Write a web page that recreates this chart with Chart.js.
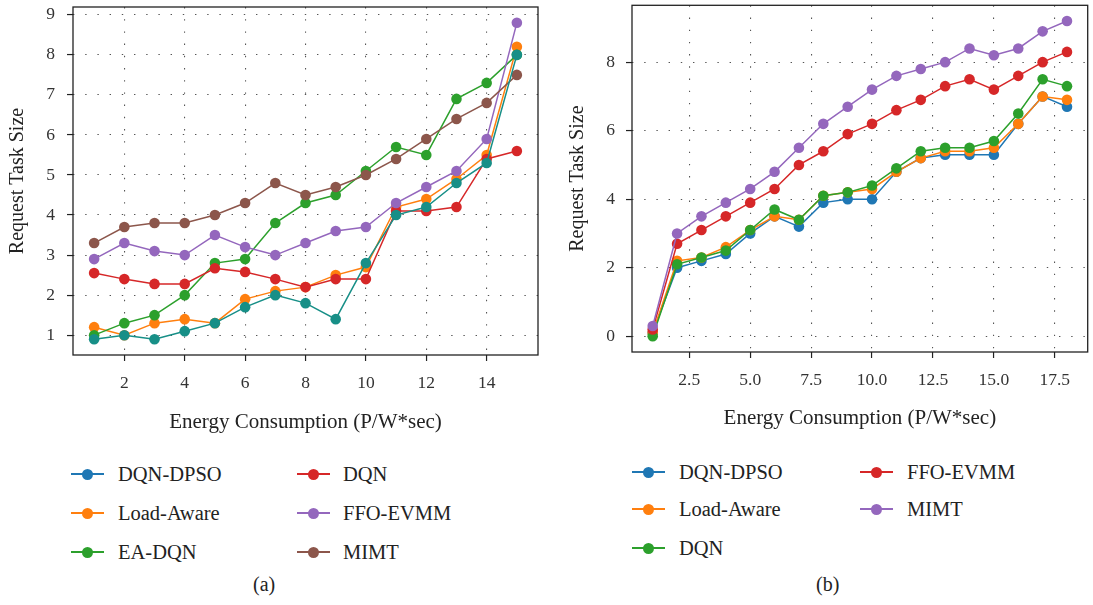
<!DOCTYPE html>
<html>
<head>
<meta charset="utf-8">
<script src="https://cdn.jsdelivr.net/npm/chart.js@4.4.0/dist/chart.umd.min.js"></script>
<style>
  body { margin: 0; background: #fff; width: 1093px; height: 605px; position: relative; overflow: hidden;
         font-family: "Liberation Serif", "Times New Roman", serif; color: #222; }
  canvas { position: absolute; top: 0; }
  .item { position: absolute; height: 24px; display: flex; align-items: center; font-size: 20.5px; white-space: nowrap; }
  .mark { position: relative; width: 33px; height: 24px; flex: none; }
  .mark .ln { position: absolute; left: 0; right: 0; top: 11px; height: 1.6px; }
  .mark .dt { position: absolute; left: 11px; top: 6.5px; width: 11px; height: 11px; border-radius: 50%; }
  .cap { position: absolute; top: 573px; font-size: 20px; }
</style>
</head>
<body>
<canvas id="chartA" width="545" height="435" style="left:0"></canvas>
<canvas id="chartB" width="545" height="431" style="left:548px"></canvas>
<div id="legendA"></div>
<div id="legendB"></div>
<div class="cap" style="left:253px">(a)</div>
<div class="cap" style="left:816px">(b)</div>

<script>
// panel (a)
var xA = [1, 2, 3, 4, 5, 6, 7, 8, 9, 10, 11, 12, 13, 14, 15];
var dqnDpsoA   = [0.9, 1.0, 0.9, 1.1, 1.3, 1.7, 2.0, 1.8, 1.4, 2.8, 4.0, 4.2, 4.8, 5.3, 8.0];
var loadAwareA = [1.2, 1.0, 1.3, 1.4, 1.3, 1.9, 2.1, 2.2, 2.5, 2.7, 4.2, 4.4, 4.9, 5.5, 8.2];
var eaDqnA     = [1.0, 1.3, 1.5, 2.0, 2.8, 2.9, 3.8, 4.3, 4.5, 5.1, 5.7, 5.5, 6.9, 7.3, 8.0];
var dqnA       = [2.55, 2.4, 2.28, 2.28, 2.67, 2.58, 2.4, 2.2, 2.4, 2.4, 4.1, 4.1, 4.2, 5.4, 5.6];
var ffoEvmmA   = [2.9, 3.3, 3.1, 3.0, 3.5, 3.2, 3.0, 3.3, 3.6, 3.7, 4.3, 4.7, 5.1, 5.9, 8.8];
var mimtA      = [3.3, 3.7, 3.8, 3.8, 4.0, 4.3, 4.8, 4.5, 4.7, 5.0, 5.4, 5.9, 6.4, 6.8, 7.5];
var xTicksA = [2, 4, 6, 8, 10, 12, 14];
var yTicksA = [1, 2, 3, 4, 5, 6, 7, 8, 9];

// panel (b)
var xB = [1, 2, 3, 4, 5, 6, 7, 8, 9, 10, 11, 12, 13, 14, 15, 16, 17, 18];
var dqnDpsoB   = [0.1, 2.0, 2.2, 2.4, 3.0, 3.5, 3.2, 3.9, 4.0, 4.0, 4.8, 5.2, 5.3, 5.3, 5.3, 6.2, 7.0, 6.7];
var loadAwareB = [0.1, 2.2, 2.3, 2.6, 3.1, 3.5, 3.4, 4.1, 4.2, 4.3, 4.8, 5.2, 5.4, 5.4, 5.5, 6.2, 7.0, 6.9];
var dqnB       = [0.0, 2.1, 2.3, 2.5, 3.1, 3.7, 3.4, 4.1, 4.2, 4.4, 4.9, 5.4, 5.5, 5.5, 5.7, 6.5, 7.5, 7.3];
var ffoEvmmB   = [0.2, 2.7, 3.1, 3.5, 3.9, 4.3, 5.0, 5.4, 5.9, 6.2, 6.6, 6.9, 7.3, 7.5, 7.2, 7.6, 8.0, 8.3];
var mimtB      = [0.3, 3.0, 3.5, 3.9, 4.3, 4.8, 5.5, 6.2, 6.7, 7.2, 7.6, 7.8, 8.0, 8.4, 8.2, 8.4, 8.9, 9.2];
var xTicksB = [2.5, 5, 7.5, 10, 12.5, 15, 17.5];
var yTicksB = [0, 2, 4, 6, 8];

var BLUE = '#1f77b4', ORANGE = '#ff7f0e', GREEN = '#2ca02c', RED = '#d62728',
    PURPLE = '#9467bd', BROWN = '#8c564b', TEAL = '#178f87';
var FONT = "'Liberation Serif', 'Times New Roman', serif";

Chart.defaults.font.family = FONT;
Chart.defaults.color = '#333';

/**
* Draws the full box around the plot area
* (matplotlib style spines on all four sides).
*/
var frame = {
    id: 'frame',
    afterDraw: function(chart) {
        var a = chart.chartArea, ctx = chart.ctx;
        ctx.save();
        ctx.strokeStyle = '#222';
        ctx.lineWidth = 1.3;
        ctx.strokeRect(a.left, a.top, a.right - a.left, a.bottom - a.top);
        ctx.restore();
    }
};

function makeDatasets(xs, series) {
    return series.map(function(s, i) {
        return {
            label: s.name,
            data: xs.map(function(x, j) { return { x: x, y: s.values[j] }; }),
            borderColor: s.color,
            backgroundColor: s.color,
            borderWidth: 1.5,
            pointRadius: 5.3,
            pointHoverRadius: 5.3,
            pointBorderWidth: 0,
            tension: 0,
            order: s.top ? -1 : series.length - i
        };
    });
}

function axis(cfg) {
    return {
        type: 'linear',
        min: cfg.min,
        max: cfg.max,
        bounds: 'data',
        grid: { color: '#555', lineWidth: 1.1, tickColor: '#222', tickWidth: 1.2, tickLength: 6 },
        border: { display: false, dash: [1.4, 10.8] },
        ticks: {
            color: '#333',
            padding: cfg.pad,
            maxRotation: 0,
            autoSkip: false,
            font: { family: FONT, size: 17.5 },
            callback: cfg.fmt
        },
        title: {
            display: true,
            text: cfg.title,
            color: '#222',
            font: { family: FONT, size: cfg.titleSize },
            padding: cfg.titlePad
        },
        afterBuildTicks: function(scale) {
            scale.ticks = cfg.ticks.map(function(v) { return { value: v }; });
        },
        afterFit: function(scale) {
            if (scale.isHorizontal()) {
                scale.height = cfg.size;
                scale.paddingLeft = 0;
                scale.paddingRight = 0;
            } else {
                scale.width = cfg.size;
                scale.paddingTop = 0;
                scale.paddingBottom = 0;
            }
        }
    };
}

function makeChart(id, xs, series, p) {
    return new Chart(document.getElementById(id).getContext('2d'), {
        type: 'line',
        data: { datasets: makeDatasets(xs, series) },
        options: {
            responsive: false,
            animation: false,
            devicePixelRatio: 1,
            layout: { padding: p.padding },
            plugins: { legend: { display: false }, tooltip: { enabled: false } },
            scales: { x: axis(p.x), y: axis(p.y) }
        },
        plugins: [frame]
    });
}

function buildLegend(id, series, cols) {
    var host = document.getElementById(id);
    series.forEach(function(s, i) {
        var c = cols[Math.floor(i / 3)], y = c.rows[i % 3];
        var el = document.createElement('div');
        el.className = 'item';
        el.style.left = c.x + 'px';
        el.style.top = (y - 12) + 'px';
        var col = s.legendColor || s.color;
        el.innerHTML = '<div class="mark"><div class="ln" style="background:' + col + '"></div>' +
            '<div class="dt" style="background:' + col + '"></div></div>' +
            '<span style="margin-left:' + (c.text - c.x - 33) + 'px">' + s.name + '</span>';
        host.appendChild(el);
    });
}

var seriesA = [
    { name: 'DQN-DPSO', values: dqnDpsoA, color: TEAL, legendColor: BLUE, top: true },
    { name: 'Load-Aware', values: loadAwareA, color: ORANGE },
    { name: 'EA-DQN', values: eaDqnA, color: GREEN },
    { name: 'DQN', values: dqnA, color: RED },
    { name: 'FFO-EVMM', values: ffoEvmmA, color: PURPLE },
    { name: 'MIMT', values: mimtA, color: BROWN }
];

var seriesB = [
    { name: 'DQN-DPSO', values: dqnDpsoB, color: BLUE },
    { name: 'Load-Aware', values: loadAwareB, color: ORANGE },
    { name: 'DQN', values: dqnB, color: GREEN },
    { name: 'FFO-EVMM', values: ffoEvmmB, color: RED },
    { name: 'MIMT', values: mimtB, color: PURPLE }
];

makeChart('chartA', xA, seriesA, {
    padding: { left: 0, right: 7, top: 7, bottom: 0 },
    x: { min: 0.3, max: 15.7, ticks: xTicksA, pad: 12, size: 80, title: 'Energy Consumption (P/W*sec)',
         titleSize: 21, titlePad: { top: 0, bottom: 0 }, fmt: function(v) { return String(v); } },
    y: { min: 0.505, max: 9.195, ticks: yTicksA, pad: 12, size: 73, title: 'Request Task Size',
         titleSize: 20, titlePad: { top: 5.5, bottom: 0 }, fmt: function(v) { return String(v); } }
});

makeChart('chartB', xB, seriesB, {
    padding: { left: 0, right: 2, top: 4, bottom: 0 },
    x: { min: 0.15, max: 18.85, ticks: xTicksB, pad: 11.5, size: 79, title: 'Energy Consumption (P/W*sec)',
         titleSize: 21, titlePad: { top: 0, bottom: 0 }, fmt: function(v) { return v.toFixed(1); } },
    y: { min: -0.46, max: 9.66, ticks: yTicksB, pad: 11, size: 84, title: 'Request Task Size',
         titleSize: 20, titlePad: { top: 17.5, bottom: 0 }, fmt: function(v) { return String(v); } }
});

buildLegend('legendA', seriesA, [
    { x: 71, text: 118, rows: [474, 513, 552] },
    { x: 297, text: 343, rows: [474, 513, 552] }
]);
buildLegend('legendB', seriesB, [
    { x: 632, text: 679, rows: [472, 509, 548] },
    { x: 860, text: 907, rows: [472, 509, 548] }
]);
</script>
</body>
</html>
